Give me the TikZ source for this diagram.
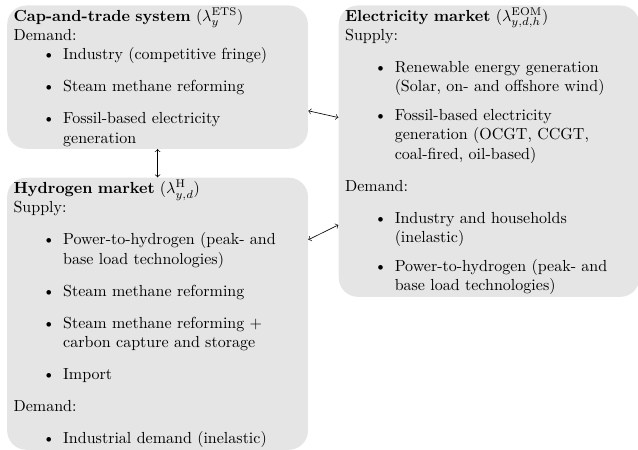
\documentclass[tikz,border=0pt]{standalone}
\usepackage{amsmath}
\usepackage{enumitem}
\usetikzlibrary{positioning}
\setlength{\parindent}{0pt}
\setlist[itemize]{leftmargin=31pt}
\tikzset{
  market/.style={fill=gray!20, rounded corners=12pt, text width=6.32cm,
    inner xsep=4pt, inner ysep=1.5pt, align=left, anchor=north west}
}
\begin{document}
\begin{tikzpicture}
	    \useasboundingbox (0,0) rectangle (14,9.853);
	    % markets
	    \node[market, minimum height=3.09cm] (ets) at (0.15,9.74) {%
	      \textbf{Cap-and-trade system} ($\lambda_{y}^{\mathrm{ETS}}$)\\
	      Demand:
	      \begin{itemize}[topsep=0pt]
	        \item Industry (competitive fringe)
	        \item Steam methane reforming
	        \item Fossil-based electricity\newline generation
	      \end{itemize}};
	    \node[market, minimum height=6.36cm, right=0.66cm of ets.north east, anchor=north west] (elec) {%
	      \textbf{Electricity market} ($\lambda_{y,d,h}^{\mathrm{EOM}}$)\\
	      Supply:
	      \begin{itemize}[itemsep=2pt]
	        \item Renewable energy generation\newline (Solar, on- and offshore wind)
	        \item Fossil-based electricity\newline generation (OCGT, CCGT,\newline coal-fired, oil-based)
	      \end{itemize}
	      Demand:
	      \begin{itemize}[itemsep=2pt]
	        \item Industry and households\newline (inelastic)
	        \item Power-to-hydrogen (peak- and\newline base load technologies)
	      \end{itemize}};
	    \node[market, minimum height=5.95cm, below=0.62cm of ets.south west, anchor=north west] (hyd) {%
	      \textbf{Hydrogen market} ($\lambda_{y,d}^{\mathrm{H}}$)\\
	      Supply:
	      \begin{itemize}
	        \item Power-to-hydrogen (peak- and\newline base load technologies)
	        \item Steam methane reforming
	        \item Steam methane reforming +\newline carbon capture and storage
	        \item Import
	      \end{itemize}
	      Demand:
	      \begin{itemize}
	        \item Industrial demand (inelastic)
	      \end{itemize}};
	    % couplings
	    \draw[<->] (ets) -- (elec);
	    \draw[<->] (ets) -- (hyd);
	    \draw[<->] (hyd) -- (elec);
	\end{tikzpicture}
\end{document}
